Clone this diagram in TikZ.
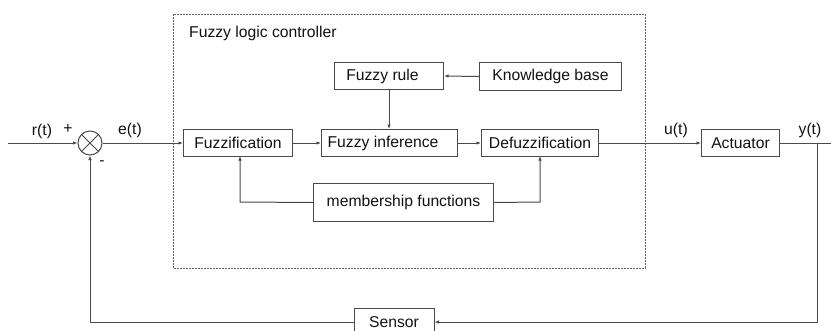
\documentclass[tikz,border=0pt]{standalone}
\usepackage{fontspec}
\setmainfont{Liberation Sans}
\usetikzlibrary{arrows.meta}
\definecolor{linec}{HTML}{4A4A4A}
\definecolor{txtc}{HTML}{111111}
\begin{document}
\begin{tikzpicture}[x=1pt,y=-1pt,
  blk/.style={draw=linec,line width=1pt,rectangle,inner sep=0pt,anchor=north west,text=txtc,font=\fontsize{15.7}{18}\selectfont},
  lbl/.style={text=txtc,font=\fontsize{15.7}{18}\selectfont,inner sep=0pt},
  conn/.style={draw=linec,line width=1pt},
  arr/.style={conn,-{Latex[length=4.5pt,width=3.5pt]}}]
\useasboundingbox (0,0) rectangle (831,330);
% controller frame
\draw[draw=linec!85,line width=1pt,dash pattern=on 2pt off 1pt] (173,14) rectangle (645,268);
\node[lbl,anchor=west] (flc) at (189,33) {Fuzzy logic controller};
% blocks
\node[blk,minimum width=109pt,minimum height=27pt] (fuzz) at (183,129) {Fuzzification};
\node[blk,minimum width=136pt,minimum height=27pt] (inf) at (321,129) {Fuzzy inference\hspace*{13pt}};
\node[blk,minimum width=109pt,minimum height=27pt] (rule) at (334,62) {Fuzzy rule\hspace*{13pt}};
\node[blk,minimum width=142pt,minimum height=28pt] (kb) at (479,62) {Knowledge base};
\node[blk,minimum width=117pt,minimum height=27pt] (defz) at (481,129) {Defuzzification};
\node[blk,minimum width=78pt,minimum height=27pt] (act) at (701,129) {Actuator};
\node[blk,minimum width=180pt,minimum height=38pt] (mf) at (313,183) {membership functions};
\node[draw=linec,line width=1pt,rectangle,inner sep=0pt,minimum width=80pt,minimum height=28pt,text=txtc,font=\fontsize{15.7}{18}\selectfont] (sen) at (394,322) {Sensor};
% summing junction
\node[circle,draw=linec,line width=1pt,minimum size=24pt,inner sep=0pt] (sum) at (90,143) {};
\draw[conn] (sum.north east) -- (sum.south west) (sum.north west) -- (sum.south east);
% coordinates
\coordinate (in) at (8,143);
\coordinate (out) at (831,143);
\coordinate (br) at (817,143);
% labels
\node[lbl] (rt) at (42,131) {r(t)};
\node[lbl] (plus) at (68,129) {+};
\node[lbl] (et) at (130,130) {e(t)};
\node[lbl] (minus) at (102,163) {-};
\node[lbl] (ut) at (676,130) {u(t)};
\node[lbl] (yt) at (810,130) {y(t)};
% connectors
\draw[arr] (in) -- (sum.west);
\draw[arr] (sum.east) -- (fuzz.west);
\draw[arr] (fuzz.east) -- (inf.west);
\draw[arr] (inf.east) -- (defz.west);
\draw[arr] (defz.east) -- (act.west);
\draw[conn] (act.east) -- (out);
\draw[arr] (kb.west) -- (rule.east);
\draw[arr] (rule.south) -- (rule.south |- inf.north);
\draw[arr] (mf.west) -- (240,202) -- (240,156);
\draw[arr] (mf.east) -- (540,202) -- (540,156);
\draw[arr] (br) |- (sen.east);
\draw[arr] (sen.west) -| (sum.south);
\end{tikzpicture}
\end{document}
